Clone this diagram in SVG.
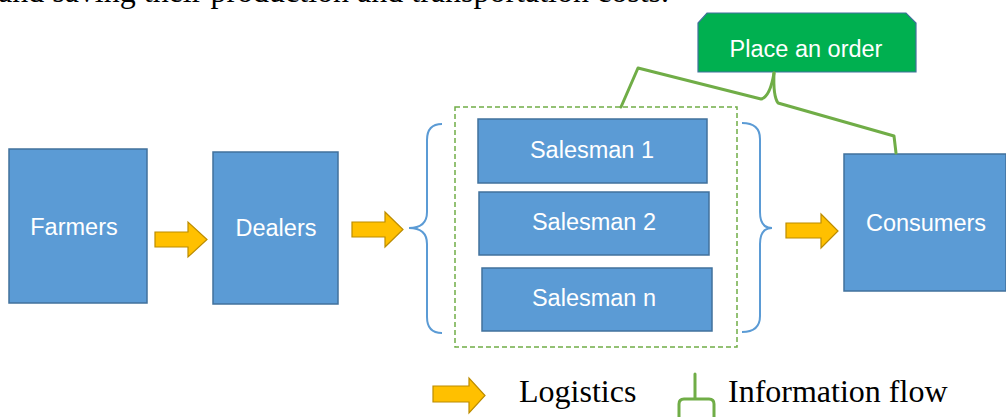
<svg xmlns="http://www.w3.org/2000/svg" width="1006" height="417" viewBox="0 0 1006 417">
  <style>
    .box { fill: #5b9bd5; stroke: #41719c; stroke-width: 1.5; }
    .label { font-family: "Liberation Sans", Arial, sans-serif; font-size: 23.5px; fill: #ffffff; text-anchor: middle; }
    .arrow { fill: #ffc000; stroke: #bc8c00; stroke-width: 1.2; stroke-linejoin: miter; }
    .brace { fill: none; stroke: #5b9bd5; stroke-width: 2; }
    .info { fill: none; stroke: #70ad47; stroke-width: 3; stroke-linejoin: round; stroke-linecap: round; }
    .serif { font-family: "Liberation Serif", "Times New Roman", serif; font-size: 32px; fill: #000000; }
  </style>

  <!-- running text line above the figure -->
  <text class="serif" x="-2" y="1.5">and saving their production and transportation costs.</text>

  <g id="farmers">
    <rect class="box" x="9" y="149" width="138" height="154"/>
    <text class="label" x="74" y="235">Farmers</text>
  </g>

  <g id="dealers">
    <rect class="box" x="213" y="152" width="125" height="152"/>
    <text class="label" x="276" y="236">Dealers</text>
  </g>

  <g id="salesmen">
    <rect x="455" y="107" width="282" height="240" fill="none" stroke="#70ad47" stroke-width="1.5" stroke-dasharray="5 3"/>
    <g id="salesman-1">
      <rect class="box" x="478" y="119" width="229" height="64"/>
      <text class="label" x="592" y="158">Salesman 1</text>
    </g>
    <g id="salesman-2">
      <rect class="box" x="479" y="192" width="230" height="63"/>
      <text class="label" x="594" y="230">Salesman 2</text>
    </g>
    <g id="salesman-n">
      <rect class="box" x="482" y="268" width="230" height="63"/>
      <text class="label" x="594" y="306">Salesman n</text>
    </g>
  </g>

  <g id="consumers">
    <rect class="box" x="844" y="154" width="162" height="137"/>
    <text class="label" x="926" y="231">Consumers</text>
  </g>

  <g id="place-order">
    <path d="M698,72 L698,23 L707,13 L906,13 L916,23 L916,72 Z" fill="#00b050" stroke="#41719c" stroke-width="1.2"/>
    <text class="label" x="806" y="57">Place an order</text>
  </g>

  <g id="connectors">
    <!-- braces grouping the salesmen -->
    <path class="brace" d="M442,124 Q427,124 427,140 L427,212 Q427,228 409,228 Q427,228 427,244 L427,317 Q427,333 442,333"/>
    <path class="brace" d="M742,123 Q760,123 760,139 L760,212 Q760,228 772,228 Q760,228 760,244 L760,316 Q760,332 742,332"/>

    <!-- logistics arrows -->
    <polygon class="arrow" points="155,232 188,232 188,222 207,239.5 188,257 188,247 155,247"/>
    <polygon class="arrow" points="352,222 385,222 385,212 403,229.5 385,247 385,237 352,237"/>
    <polygon class="arrow" points="786,223 821,223 821,214 838,231 821,248 821,238 786,238"/>

    <!-- information flow -->
    <path class="info" d="M621,107 L638,68 L761,99 Q770,97 774,73"/>
    <path class="info" d="M774,73 Q773,96 778,103 L894,136 L896,153"/>
  </g>

  <g id="legend">
    <polygon class="arrow" points="433,386 469,386 469,378 485,395.5 469,413 469,402 433,402"/>
    <text class="serif" x="519" y="402">Logistics</text>
    <path class="info" d="M695,374 L695,399 M679,418 L679,404 Q679,399 684,399 L709,399 Q714,399 714,404 L714,418"/>
    <text class="serif" x="728" y="402" font-size="31.5">Information flow</text>
  </g>
</svg>
